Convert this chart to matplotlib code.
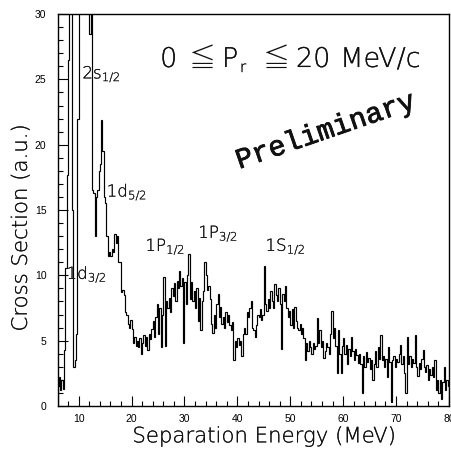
import numpy as np
import matplotlib
matplotlib.use("Agg")
import matplotlib.pyplot as plt
import matplotlib.patheffects as pe

plt.rcParams['font.family'] = ['Liberation Sans', 'DejaVu Sans']
plt.rcParams['mathtext.default'] = 'regular'

# Histogram: separation energy bins of 0.25 MeV from 6 to 80 MeV
bin_start = 6.0
bin_width = 0.25

counts_06_20 = [
    1.5, 2.2, 1.2, 2.0,
    1.3, 4.3, 10.6, 17.7,
    26.5, 34, 36, 15,
    3.0, 3.5, 5.5, 22,
    34, 38, 40, 38,
    36, 34, 32, 31,
    28.5, 31, 16.5, 16.3,
    13.0, 16.0, 16.5, 18.0,
    18.5, 21.9, 19.5, 16.0,
    15.5, 13.0, 11.5, 11.8,
    11.5, 12.0, 11.8, 13.2,
    12.5, 13.0, 11.0, 11.0,
    8.7, 8.9, 8.5, 7.2,
    7.0, 6.3, 6.0, 6.6,
]
counts_20_40 = [
    5.9, 4.8, 5.3, 4.6,
    5.0, 4.5, 5.2, 4.0,
    4.8, 5.4, 4.6, 5.3,
    4.3, 5.5, 5.1, 5.9,
    6.5, 5.3, 6.8, 7.8,
    5.5, 7.5, 4.5, 7.0,
    9.9, 4.6, 8.0, 7.5,
    8.3, 7.2, 9.0, 8.4,
    9.4, 8.0, 9.6, 9.0,
    10.3, 9.2, 9.8, 4.8,
    9.5, 7.8, 10.0, 11.6,
    8.2, 9.5, 8.0, 8.8,
    7.5, 9.0, 6.5, 8.3,
    5.8, 8.0, 8.8, 11.0,
    10.0, 8.9, 9.2, 8.2,
    6.3, 5.6, 7.0, 6.0,
    7.8, 8.6, 6.8, 7.6,
    6.3, 6.8, 6.0, 7.2,
    6.4, 7.0, 6.2, 5.8,
    6.4, 3.5, 5.0, 4.5,
]
counts_40_60 = [
    5.2, 4.7, 5.0, 3.8,
    5.5, 6.0, 5.5, 7.2,
    6.8, 7.5, 8.0, 6.0,
    5.8, 5.3, 6.2, 7.0,
    6.8, 7.4, 6.6, 7.0,
    10.7, 7.8, 7.3, 8.2,
    7.5, 8.8, 8.0, 7.5,
    9.3, 8.5, 8.0, 9.0,
    7.8, 4.4, 8.6, 8.0,
    9.2, 7.5, 6.8, 7.3,
    6.2, 7.4, 6.0, 7.6,
    6.5, 6.0, 5.8, 6.3,
    5.5, 6.0, 5.2, 3.5,
    4.8, 4.2, 5.0, 4.5,
    4.0, 4.8, 4.4, 4.6,
    6.7, 4.8, 5.8, 4.5,
    5.0, 3.7, 4.2, 4.8,
    4.5, 4.0, 5.5, 7.3,
    5.2, 6.0, 4.6, 2.5,
    5.8, 4.0, 2.5, 4.6,
]
counts_60_80 = [
    5.2, 4.0, 4.7, 3.2,
    4.4, 3.8, 5.3, 4.2,
    3.5, 4.4, 3.9, 3.3,
    4.0, 3.2, 1.0, 3.8,
    3.0, 4.1, 3.4, 3.7,
    2.8, 3.5, 2.0, 3.2,
    4.2, 3.0, 4.5, 3.6,
    5.4, 3.5, 3.8, 3.0,
    3.6, 2.2, 4.5, 3.4,
    0.3, 3.5, 3.8, 3.0,
    3.6, 3.4, 4.0, 4.7,
    3.2, 3.8, 2.5, 1.0,
    5.3, 3.2, 3.8, 3.0,
    3.6, 3.3, 5.4, 3.0,
    2.3, 3.3, 2.8, 3.6,
    4.3, 3.0, 2.6, 3.1,
    2.0, 2.8, 2.4, 3.0,
    2.2, 3.5, 1.2, 2.0,
    1.0, 2.0, 0.5, 1.8,
    3.0, 1.2, 2.0, 1.5,
]

# Shell labels (text, x in MeV, y in a.u.)
shell_labels = [r"2s$_{1/2}$", r"1d$_{5/2}$", r"1d$_{3/2}$",
                r"1P$_{1/2}$", r"1P$_{3/2}$", r"1S$_{1/2}$"]
shell_x = [10.7, 15.3, 7.7, 22.6, 32.6, 45.3]
shell_y = [25.4, 16.4, 10.1, 12.2, 13.2, 12.2]

# Title pieces: (text, x position in axes fraction, is_subscript)
title_pieces = ["0", "≦", "P", "r", "≦", "20", "MeV/c"]
title_xpos = [0.262, 0.333, 0.420, 0.466, 0.522, 0.609, 0.722]
title_sub = [False, False, False, True, False, False, False]

counts = np.array(counts_06_20 + counts_20_40 + counts_40_60 + counts_60_80)
edges = bin_start + bin_width * np.arange(len(counts) + 1)

darken = [pe.withStroke(linewidth=0.12, foreground='#111111')]
thin = dict(family='DejaVu Sans', fontweight=200, path_effects=darken)

fig = plt.figure(figsize=(4.51, 4.51), dpi=100)
ax = fig.add_axes([0.1275, 0.0998, 0.868, 0.869])

ax.stairs(counts, edges, color='black', linewidth=0.85)

ax.set_xlim(6, 80)
ax.set_ylim(0, 30)
ax.set_xticks(np.arange(10, 81, 10))
ax.set_xticks(np.arange(8, 81, 2), minor=True)
ax.set_yticks(np.arange(0, 31, 5))
ax.set_yticks(np.arange(0, 31, 1), minor=True)
ax.tick_params(which='both', direction='in', top=False, right=False,
               labelsize=7.5, width=0.8)
ax.tick_params(axis='y', pad=8)
ax.tick_params(axis='x', pad=6)
ax.tick_params(which='major', length=7)
ax.tick_params(which='minor', length=3.5)
for s in ax.spines.values():
    s.set_linewidth(1.0)

ax.set_xlabel("Separation Energy (MeV)", fontsize=15.3, color='#111111', **thin)
ax.xaxis.set_label_coords(0.527, -0.052)
ax.set_ylabel("Cross Section (a.u.)", fontsize=15.3, color='#111111', **thin)
ax.yaxis.set_label_coords(-0.068, 0.454)

for txt, xp, sub in zip(title_pieces, title_xpos, title_sub):
    if txt == "≦":
        fam = dict(family='Noto Sans CJK JP', fontweight=200)
    else:
        fam = thin
    ax.text(xp, 0.852 if sub else 0.865, txt, transform=ax.transAxes,
            ha='left', va='baseline', fontsize=11 if sub else 19.5,
            color='#111111', **fam)

ax.text(0.686, 0.70, "Preliminary", transform=ax.transAxes, ha='center',
        va='center', rotation=19, rotation_mode='anchor', fontsize=20.5,
        family='Liberation Mono', color='#111111',
        path_effects=[pe.withStroke(linewidth=0.6, foreground='#111111')])

for lab, x, y in zip(shell_labels, shell_x, shell_y):
    ax.text(x, y, lab, fontsize=12, color='#111111', ha='left',
            va='center', **thin)

fig.savefig("out.png", dpi=100)
